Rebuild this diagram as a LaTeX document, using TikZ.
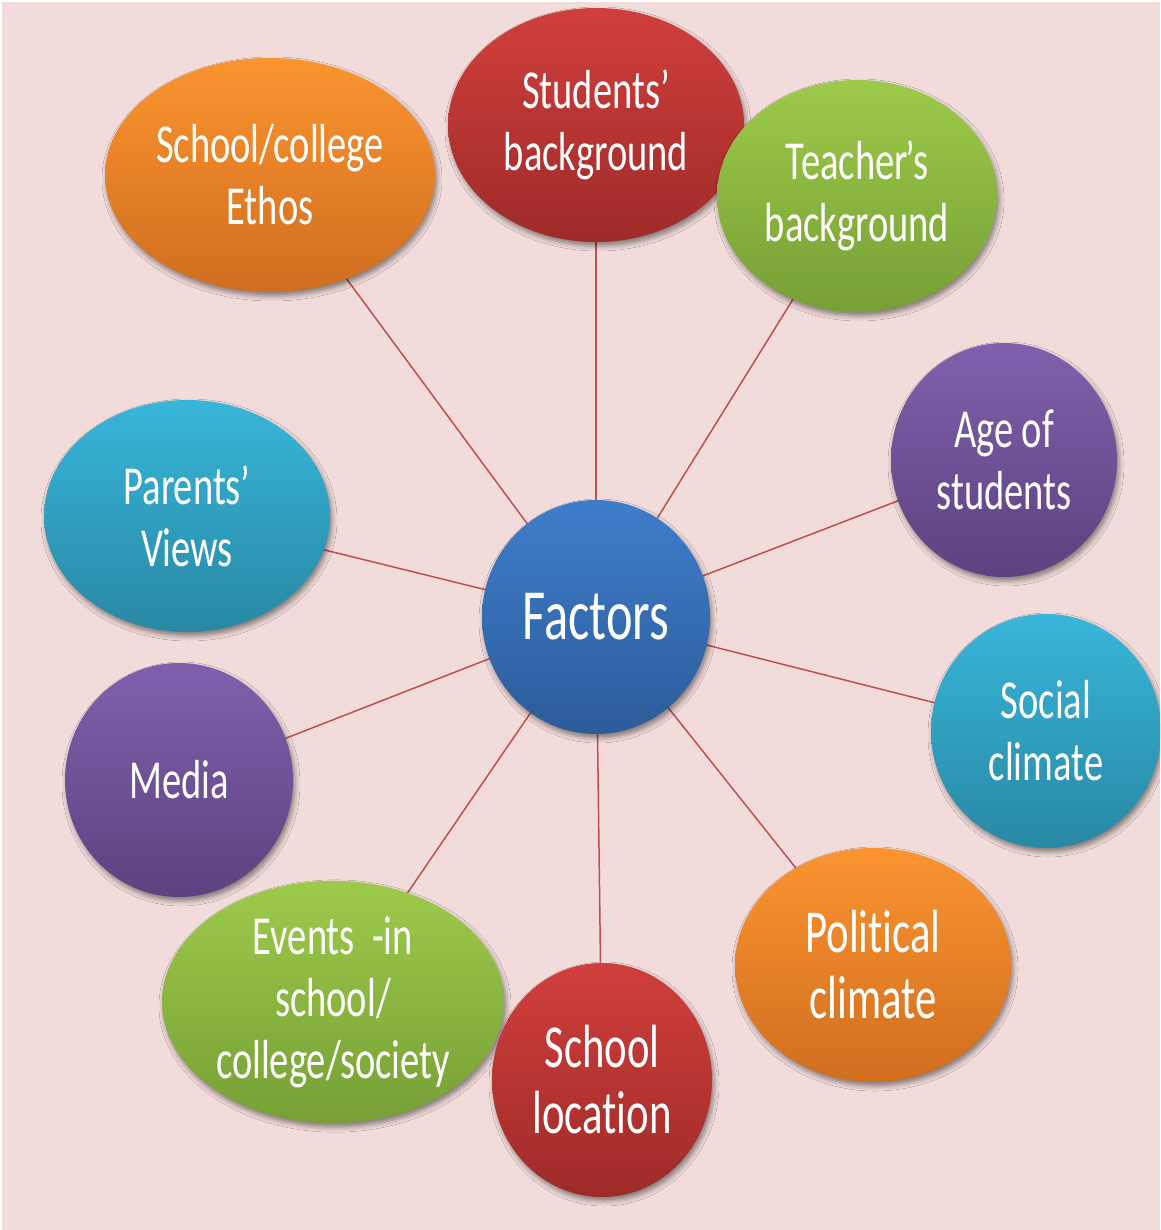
\documentclass[tikz,border=0pt]{standalone}
\usepackage{fontspec}
\setmainfont[FakeStretch=0.70, Ligatures=NoCommon]{Carlito}
\usetikzlibrary{shapes.geometric,shadows.blur}
\definecolor{bgpink}{HTML}{F2DCDB}
\definecolor{linkred}{HTML}{C0504D}
\definecolor{blueT}{HTML}{3E7DCB}\definecolor{blueB}{HTML}{2C5C9A}
\definecolor{redT}{HTML}{D03F3C}\definecolor{redB}{HTML}{9E2B29}
\definecolor{greenT}{HTML}{9DCA4A}\definecolor{greenB}{HTML}{76A036}
\definecolor{orangeT}{HTML}{FB9430}\definecolor{orangeB}{HTML}{D06E1F}
\definecolor{cyanT}{HTML}{38B6DA}\definecolor{cyanB}{HTML}{2888A3}
\definecolor{purpleT}{HTML}{8060AD}\definecolor{purpleB}{HTML}{5C4280}
\tikzset{
  bubble/.style={ellipse, inner sep=0pt, align=center, text=white,
    font=\fontsize{55}{62}\selectfont,
    blur shadow={shadow xshift=2pt, shadow yshift=-4pt, shadow blur radius=5pt, shadow opacity=45}},
  bigtext/.style={font=\fontsize{61}{66}\selectfont},
  fillblue/.style={top color=blueT, bottom color=blueB},
  fillred/.style={top color=redT, bottom color=redB},
  fillgreen/.style={top color=greenT, bottom color=greenB},
  fillorange/.style={top color=orangeT, bottom color=orangeB},
  fillcyan/.style={top color=cyanT, bottom color=cyanB},
  fillpurple/.style={top color=purpleT, bottom color=purpleB},
  link/.style={draw=linkred, line width=1.5pt},
}
\begin{document}
\begin{tikzpicture}[x=1pt,y=-1pt]
\useasboundingbox (0,0) rectangle (1160,1230);
\clip (0,0) rectangle (1160,1230);
\fill[white] (0,0) rectangle (1160,1230);
\fill[bgpink] (2,2) rectangle (1160,1230);

% coordinates of centres
\coordinate (cF) at (596,617);
\coordinate (cSB) at (596,125);
\coordinate (cTB) at (857,196);
\coordinate (cSE) at (270,175);
\coordinate (cPV) at (187,516);
\coordinate (cAS) at (1004,460);
\coordinate (cSC) at (1046,731);
\coordinate (cMe) at (179,780);
\coordinate (cPC) at (873,965);
\coordinate (cSL) at (602,1080);
\coordinate (cEv) at (333,1002);

% connectors (behind)
\foreach \t in {cSB,cTB,cSE,cPV,cAS,cSC,cMe,cPC,cSL,cEv}
  \draw[link] (cF) -- (\t);

% nodes
\node[bubble, fillorange, minimum width=330pt, minimum height=234pt] (SE) at (cSE) {School/college\\Ethos};
\node[bubble, fillred, minimum width=296pt, minimum height=234pt] (SB) at (cSB) {Students’\\background};
\node[bubble, fillgreen, minimum width=280pt, minimum height=232pt] (TB) at (cTB) {Teacher\kern-2pt’s\\background};
\node[bubble, fillpurple, minimum width=226pt, minimum height=234pt] (AS) at (cAS) {Age of\\students};
\node[bubble, fillcyan, minimum width=286pt, minimum height=232pt] (PV) at (cPV) {Parents’\\Views};
\node[bubble, fillblue, minimum width=228pt, minimum height=234pt, font=\fontsize{72}{78}\selectfont] (F) at (cF) {Factors};
\node[bubble, fillcyan, minimum width=230pt, minimum height=234pt] (SC) at (cSC) {Social\\climate};
\node[bubble, fillpurple, minimum width=228pt, minimum height=234pt] (Me) at (cMe) {Media};
\node[bubble, bigtext, fillorange, minimum width=276pt, minimum height=234pt] (PC) at (cPC) {Political\\climate};
\node[bubble, fillgreen, minimum width=342pt, minimum height=234pt] (Ev) at (cEv) {Events\ \ -in\\school/\\college/society};
\node[bubble, bigtext, fillred, minimum width=220pt, minimum height=234pt] (SL) at (cSL) {School\\location};
\end{tikzpicture}
\end{document}
